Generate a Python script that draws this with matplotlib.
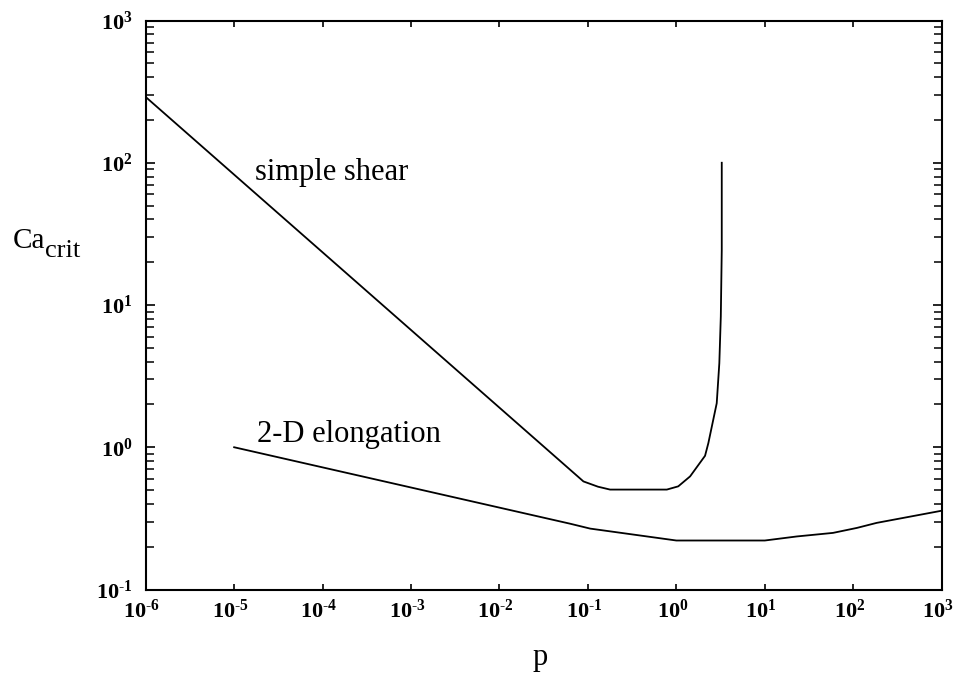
import numpy as np
import matplotlib
matplotlib.use('Agg')
import matplotlib.pyplot as plt
import matplotlib.transforms as mtransforms
from matplotlib.ticker import LogLocator, FuncFormatter, NullFormatter, NullLocator

plt.rcParams['font.family'] = ['Liberation Serif', 'DejaVu Serif']
plt.rcParams['mathtext.fontset'] = 'custom'
plt.rcParams['mathtext.rm'] = 'Liberation Serif'
plt.rcParams['mathtext.bf'] = 'Liberation Serif:bold'
plt.rcParams['mathtext.it'] = 'Liberation Serif:italic'

# Data
shear_p = [1e-6, 0.089, 0.13, 0.178, 0.78, 1.05, 1.43, 2.11, 2.30, 2.86, 3.06, 3.18, 3.26, 3.26]
shear_ca = [290, 0.575, 0.528, 0.504, 0.504, 0.531, 0.624, 0.871, 1.07, 2.04, 3.90, 8.28, 24.3, 100]
elong_p = [1e-5, 0.063, 0.106, 1.0, 10.0, 23, 59, 110, 184, 1000]
elong_ca = [1.0, 0.29, 0.268, 0.221, 0.221, 0.236, 0.25, 0.271, 0.294, 0.358]

x_limits = [1e-6, 1e3]
y_limits = [1e-1, 1e3]

W, H = 954, 674
fig = plt.figure(figsize=(W / 100, H / 100), dpi=100)
ax = fig.add_axes([145.7 / W, (H - 589.5) / H, (941.7 - 145.7) / W, (589.5 - 20.5) / H])

ax.plot(shear_p, shear_ca, color='black', lw=1.3)
ax.plot(elong_p, elong_ca, color='black', lw=1.3)

ax.set_xscale('log')
ax.set_yscale('log')
ax.set_xlim(x_limits)
ax.set_ylim(y_limits)

ax.xaxis.set_major_locator(LogLocator(base=10, numticks=20))
ax.xaxis.set_minor_locator(NullLocator())
ax.yaxis.set_major_locator(LogLocator(base=10, subs=[1.0], numticks=20))
ax.yaxis.set_minor_locator(LogLocator(base=10, subs=np.arange(2, 10), numticks=20))
ax.yaxis.set_minor_formatter(NullFormatter())


def label(v, pos):
    e = int(round(np.log10(v)))
    if e < 0:
        return r'$\mathbf{10^{\text{-}%d}}$' % (-e)
    return r'$\mathbf{10^{%d}}$' % e


fmt = FuncFormatter(label)
ax.xaxis.set_major_formatter(fmt)
ax.yaxis.set_major_formatter(fmt)

for s in ax.spines.values():
    s.set_linewidth(1.5)

ax.tick_params(axis='both', which='both', direction='in', top=True, right=True)
ax.tick_params(axis='x', which='major', length=4.5, width=1.2, pad=7, labelsize=16)
ax.tick_params(axis='y', which='major', length=6.5, width=1.2, pad=9.5, labelsize=16)
ax.tick_params(axis='y', which='minor', length=6, width=1.1)

shift = mtransforms.ScaledTranslation(-4 / 100, 0, fig.dpi_scale_trans)
for lab in ax.get_xticklabels():
    lab.set_transform(lab.get_transform() + shift)

ax.text(1.72e-5, 75.7, 'simple shear', fontsize=22, ha='left', va='baseline')
ax.text(1.80e-5, 1.094, '2-D elongation', fontsize=22, ha='left', va='baseline')

fig.text(12.7 / W, 1 - 247.7 / H, 'Ca', fontsize=21, ha='left', va='baseline')
fig.text(45 / W, 1 - 256.7 / H, 'crit', fontsize=19, ha='left', va='baseline')
fig.text(540.5 / W, 1 - 665 / H, 'p', fontsize=22, ha='center', va='baseline')

fig.savefig('out.png', dpi=100)
